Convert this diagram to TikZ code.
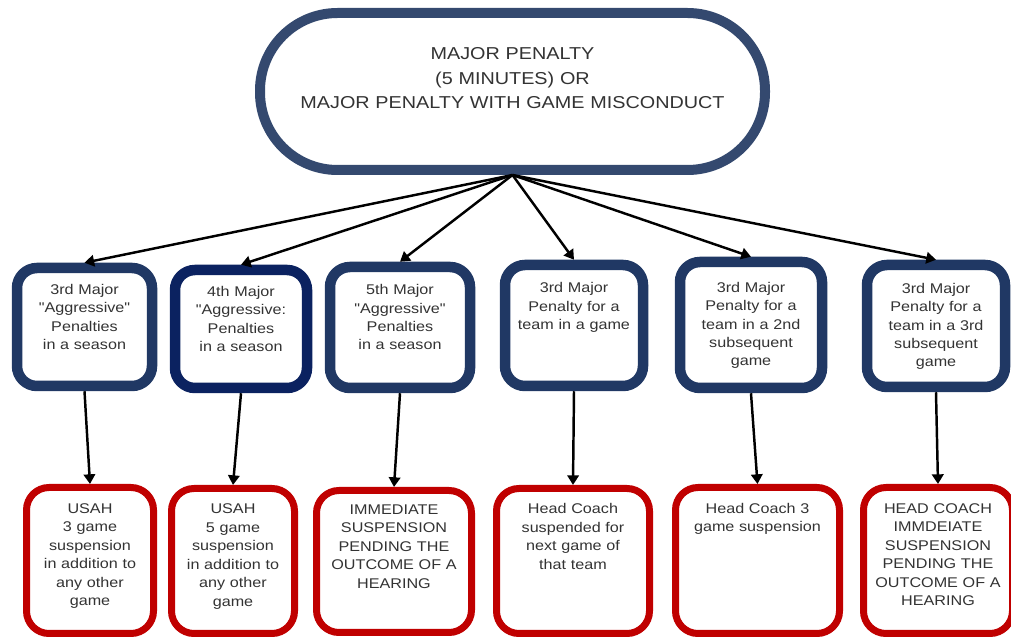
\documentclass[tikz,border=0pt]{standalone}
\usepackage{fontspec}
\setmainfont[FakeStretch=1.15,Ligatures=TeXOff]{Liberation Sans}
\usetikzlibrary{arrows.meta}

\definecolor{titleblue}{HTML}{34496F}
\definecolor{boxblue}{HTML}{203864}
\definecolor{navyblue}{HTML}{0B2260}
\definecolor{penred}{HTML}{C00000}
\definecolor{textgray}{HTML}{333333}

\tikzset{
  rulebox/.style={draw=boxblue, line width=0.21cm, fill=white, rounded corners=0.4cm,
    inner sep=0pt, text width=2.4cm, align=center, text=textgray,
    text height=0.31cm, text depth=1.61cm, font=\fontsize{8}{10.4}\selectfont},
  outcome/.style={rulebox, draw=penred, line width=0.14cm, rounded corners=0.45cm,
    text width=2.3cm, text height=0.32cm, text depth=2.2cm,
    font=\fontsize{8}{10.5}\selectfont},
  link/.style={line width=1.4pt, -{Triangle[length=5.5pt,width=6.5pt]}}
}

\begin{document}
\begin{tikzpicture}
  \useasboundingbox (0,0) rectangle (20.22,12.78);

  % Penalty at the top
  \node[draw=titleblue, line width=0.2cm, rounded corners=1.55cm, fill=white,
    minimum width=10.1cm, minimum height=3.14cm, inner sep=0pt,
    text width=9.5cm, align=center, text=textgray,
    text height=0.61cm, text depth=1.87cm, font=\fontsize{9.8}{13.9}\selectfont]
    (top) at (10.25,10.95)
    {MAJOR PENALTY\\(5 MINUTES) OR\\MAJOR PENALTY WITH GAME MISCONDUCT};

  % Offences
  \node[rulebox, minimum width=2.7cm, minimum height=2.36cm] (b1) at (1.69,6.24)
    {3rd Major\\"Aggressive"\\Penalties\\in a season};
  \node[rulebox, draw=navyblue, minimum width=2.64cm, minimum height=2.36cm] (b2) at (4.82,6.20)
    {4th Major\\"Aggressive:\\Penalties\\in a season};
  \node[rulebox, minimum width=2.8cm, minimum height=2.42cm] (b3) at (8.0,6.23)
    {5th Major\\"Aggressive"\\Penalties\\in a season};
  \node[rulebox, minimum width=2.76cm, minimum height=2.42cm] (b4) at (11.48,6.27)
    {3rd Major\\Penalty for a\\team in a game};
  \node[rulebox, minimum width=2.84cm, minimum height=2.52cm] (b5) at (15.02,6.28)
    {3rd Major\\Penalty for a\\team in a 2nd\\subsequent\\game};
  \node[rulebox, minimum width=2.76cm, minimum height=2.44cm] (b6) at (18.72,6.26)
    {3rd Major\\Penalty for a\\team in a 3rd\\subsequent\\game};

  % Suspensions
  \node[outcome, minimum width=2.54cm, minimum height=2.92cm] (r1) at (1.8,1.57)
    {USAH\\3 game\\suspension\\in addition to\\any other\\game};
  \node[outcome, minimum width=2.46cm, minimum height=2.9cm] (r2) at (4.66,1.56)
    {USAH\\5 game\\suspension\\in addition to\\any other\\game};
  \node[outcome, text width=2.7cm, minimum width=3.1cm, minimum height=2.84cm] (r3) at (7.88,1.55)
    {IMMEDIATE\\SUSPENSION\\PENDING THE\\OUTCOME OF A\\HEARING};
  \node[outcome, minimum width=3.06cm, minimum height=2.9cm] (r4) at (11.46,1.56)
    {Head Coach\\suspended for\\next game of\\that team};
  \node[outcome, text width=2.8cm, minimum width=3.28cm, minimum height=2.92cm] (r5) at (15.15,1.57)
    {Head Coach 3\\game suspension};
  \node[outcome, text width=2.7cm, minimum width=2.98cm, minimum height=2.92cm] (r6) at (18.76,1.57)
    {HEAD COACH\\IMMDEIATE\\SUSPENSION\\PENDING THE\\OUTCOME OF A\\HEARING};

  % Arrows
  \foreach \i in {1,...,6} {
    \draw[link] (top.south) -- (b\i.north);
    \draw[link] (b\i.south) -- (r\i.north);
  }

\end{tikzpicture}
\end{document}
